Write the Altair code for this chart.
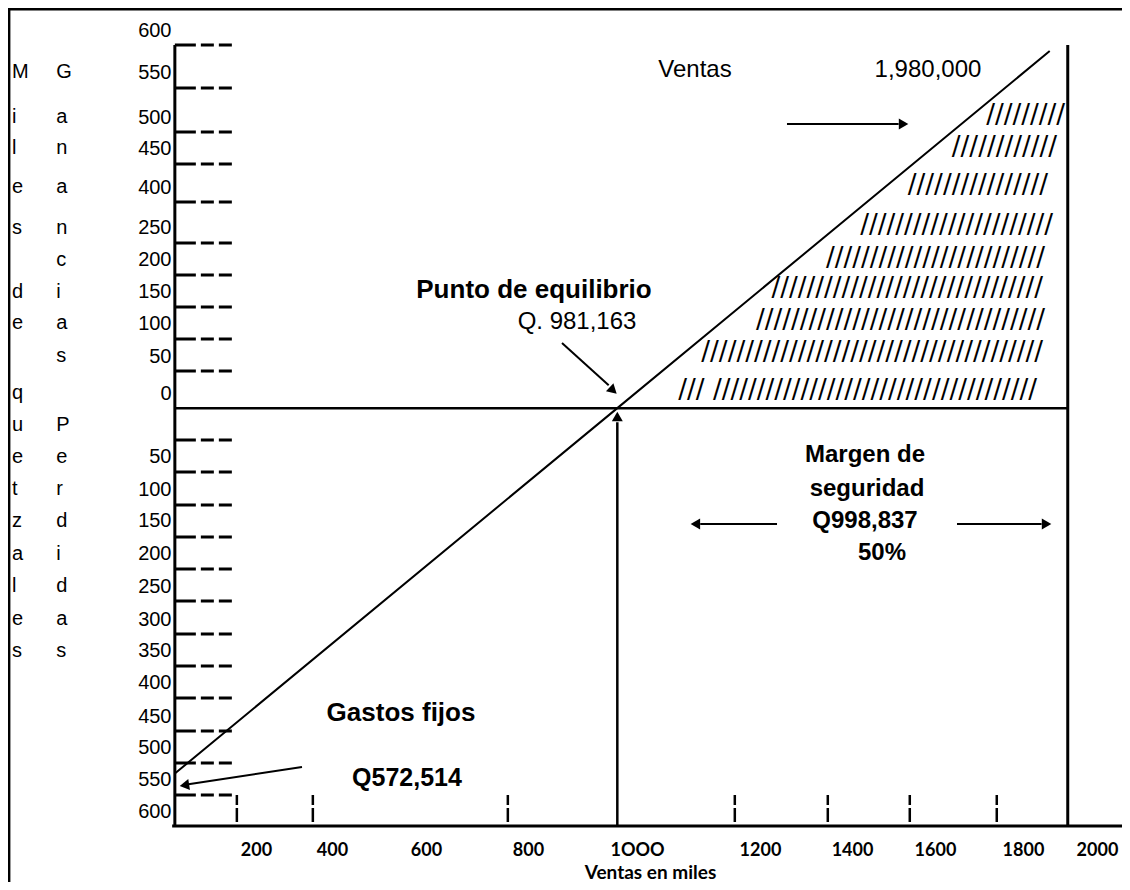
import json
import altair as alt
import pandas as pd

# ---------------- values (thousands of Q) ----------------
GASTOS_FIJOS = 572.514
PUNTO_EQUILIBRIO = 981.163
VENTAS = 1980.0

# profit line ("Ventas") : sales -> profit
sales_line_s = [0.0, 981.163, 1940.0]
sales_line_p = [-572.514, 0.0, 559.5]

# y tick labels (hand-placed in the original)
y_tick_text = ["600", "550", "500", "450", "400", "250", "200", "150", "100", "50", "0",
               "50", "100", "150", "200", "250", "300", "350", "400", "450", "500", "550", "600"]
y_tick_pos = [591.0, 526.7, 456.2, 407.6, 346.5, 282.3, 232.2, 182.0, 133.4, 81.7, 23.7,
              -76.5, -126.7, -176.8, -228.5, -278.7, -330.4, -380.5, -430.6, -482.4,
              -532.5, -582.6, -632.8]

# x tick labels
x_tick_text = ["200", "400", "600", "800", "1OOO", "1200", "1400", "1600", "1800", "2000"]
x_tick_pos = [179.9, 348.5, 556.9, 783.1, 1024.8, 1297.5, 1501.6, 1685.6, 1880.7, 2044.8]

# short dashed guide lines on the left
dash_levels = [569.0, 501.6, 432.7, 382.6, 323.0, 258.8, 208.6, 158.5, 108.4, 58.2,
               -49.9, -100.0, -151.7, -201.9, -252.0, -302.2, -353.9, -404.0, -454.1,
               -505.8, -556.0, -606.1]
dash_length = 141.9
# dashed ticks on the bottom
bottom_tick_s = [137.5, 306.0, 738.4, 1241.7, 1447.9, 1629.7, 1822.6]
bottom_tick_top = -606.1
bottom_tick_bottom = -648.4

# axis extent
AXIS_BOTTOM = -654.7
AXIS_TOP = 569.0

# hatched profit area, typed as rows of slashes
hatch_right_s = [1973.9, 1956.1, 1936.2, 1947.3, 1929.5, 1925.1, 1929.5, 1925.1, 1911.8]
hatch_p = [459.3, 409.2, 349.7, 287.0, 235.3, 188.3, 138.1, 88.0, 28.5]
hatch_text = ["/" * 9, "/" * 12, "/" * 16, "/" * 22, "/" * 25, "/" * 31, "/" * 33,
              "/" * 39, "/// " + "/" * 37]

# vertical axis title letters
letters_left = list("Miles") + [""] + list("de") + [""] + list("quetzales")
letters_right = list("Ganancias") + [""] + list("Perdidas")
letter_rows = [526.7, 456.2, 407.6, 346.5, 282.3, 232.2, 182.0, 133.4, 81.7, 23.7,
               -26.4, -76.5, -126.7, -176.8, -228.5, -278.7, -330.4, -380.5]
LETTER_COL1 = -361.1
LETTER_COL2 = -263.0

X_DOMAIN = [-370.0, 2100.3]
Y_DOMAIN = [-742.5, 627.0]

FONT = "Liberation Sans"
BLACK = "#000000"

# ---------------- scales / axes ----------------
xs = alt.Scale(domain=X_DOMAIN, nice=False, zero=False)
ys = alt.Scale(domain=Y_DOMAIN, nice=False, zero=False)

x_label_expr = "%s[indexof(%s, datum.value)]" % (json.dumps(x_tick_text), json.dumps(x_tick_pos))
y_label_expr = "%s[indexof(%s, datum.value)]" % (json.dumps(y_tick_text), json.dumps(y_tick_pos))

xaxis = alt.Axis(values=x_tick_pos, labelExpr=x_label_expr, orient="bottom", offset=-56,
                 domain=False, ticks=False, tickSize=0, grid=False,
                 labelFont="Lato", labelFontWeight="bold", labelFontSize=18, labelColor=BLACK,
                 labelPadding=15, labelOverlap=False, labelFlush=False,
                 title="Ventas en miles", titleFont="Lato", titleFontWeight="bold",
                 titleFontSize=19, titleColor=BLACK, titleX=642, titleY=46,
                 titleAlign="center", titleBaseline="middle", titleAngle=0)
yaxis = alt.Axis(values=y_tick_pos, labelExpr=y_label_expr, orient="left", offset=-167,
                 domain=False, ticks=False, tickSize=0, grid=False,
                 labelFont=FONT, labelFontSize=20, labelColor=BLACK, labelPadding=4,
                 labelOverlap=False, labelFlush=False, labelAlign="right",
                 labelBaseline="middle", title="")


def X(f):
    return alt.X(f, type="quantitative", scale=xs, axis=xaxis)


def Y(f):
    return alt.Y(f, type="quantitative", scale=ys, axis=yaxis)


layers = []

# outer frame (left and top)
frame_v = pd.DataFrame({"s": [X_DOMAIN[0] + 2.0], "p": [Y_DOMAIN[0]], "p2": [Y_DOMAIN[1]]})
layers.append(alt.Chart(frame_v).mark_rule(color=BLACK, strokeWidth=3).encode(
    x=X("s"), y=Y("p"), y2="p2"))
frame_h = pd.DataFrame({"s": [X_DOMAIN[0]], "s2": [X_DOMAIN[1]], "p": [Y_DOMAIN[1] - 1.6]})
layers.append(alt.Chart(frame_h).mark_rule(color=BLACK, strokeWidth=3).encode(
    x=X("s"), x2="s2", y=Y("p")))

# axes lines and right (sales) line
axes_df = pd.DataFrame({
    "s": [0.0, -6.0, VENTAS],
    "s2": [0.0, X_DOMAIN[1], VENTAS],
    "p": [AXIS_BOTTOM, AXIS_BOTTOM, AXIS_BOTTOM],
    "p2": [AXIS_TOP, AXIS_BOTTOM, AXIS_TOP],
})
layers.append(alt.Chart(axes_df).mark_rule(color=BLACK, strokeWidth=3).encode(
    x=X("s"), x2="s2", y=Y("p"), y2="p2"))

# zero (break-even) line and the vertical break-even arrow shaft
mid_df = pd.DataFrame({
    "s": [0.0, PUNTO_EQUILIBRIO],
    "s2": [VENTAS, PUNTO_EQUILIBRIO],
    "p": [0.0, AXIS_BOTTOM],
    "p2": [0.0, -22.0],
})
layers.append(alt.Chart(mid_df).mark_rule(color=BLACK, strokeWidth=2.5).encode(
    x=X("s"), x2="s2", y=Y("p"), y2="p2"))

# sales / profit line
line_df = pd.DataFrame({"s": sales_line_s, "p": sales_line_p})
layers.append(alt.Chart(line_df).mark_line(color=BLACK, strokeWidth=2).encode(
    x=X("s"), y=Y("p")))

# short dashed guide lines
dash_df = pd.DataFrame({"s": [0.0] * len(dash_levels), "s2": [dash_length] * len(dash_levels),
                        "p": dash_levels})
layers.append(alt.Chart(dash_df).mark_rule(color=BLACK, strokeWidth=3,
                                           strokeDash=[21, 5, 13, 5, 13, 10]).encode(
    x=X("s"), x2="s2", y=Y("p")))

# bottom dashed ticks
bt_df = pd.DataFrame({"s": bottom_tick_s, "p": [bottom_tick_top] * len(bottom_tick_s),
                      "p2": [bottom_tick_bottom] * len(bottom_tick_s)})
layers.append(alt.Chart(bt_df).mark_rule(color=BLACK, strokeWidth=2.5,
                                         strokeDash=[10, 3, 16, 3]).encode(
    x=X("s"), y=Y("p"), y2="p2"))

# annotation arrows: shafts
shaft_df = pd.DataFrame({
    "s": [1357.4, 1335.3, 1734.4, 858.5, 281.9],
    "p": [445.2, -181.5, -181.5, 102.1, -562.3],
    "s2": [1605.0, 1165.0, 1922.0, 962.0, 30.0],
    "p2": [445.2, -181.5, -181.5, 36.0, -589.5],
})
layers.append(alt.Chart(shaft_df).mark_rule(color=BLACK, strokeWidth=2).encode(
    x=X("s"), x2="s2", y=Y("p"), y2="p2"))

# arrow heads
head_df = pd.DataFrame({
    "s": [1612.4, 1157.8, 1929.5, 969.4, 24.7, PUNTO_EQUILIBRIO],
    "p": [445.2, -181.5, -181.5, 29.2, -590.5, -15.4],
    "ang": [90.0, 270.0, 90.0, 132.9, 261.1, 0.0],
})
layers.append(alt.Chart(head_df).mark_point(shape="triangle", filled=True, color=BLACK,
                                            opacity=1, size=120, strokeWidth=0).encode(
    x=X("s"), y=Y("p"), angle=alt.Angle("ang:Q", scale=None)))


def text_layer(df, size, weight="normal", align="center", font=FONT):
    return alt.Chart(df).mark_text(font=font, fontSize=size, fontWeight=weight, align=align,
                                   baseline="middle", color=BLACK).encode(
        x=X("s"), y=Y("p"), text="t:N")


reg24 = pd.DataFrame({"t": ["Ventas", "1,980,000", "Q. 981,163"],
                      "s": [1153.4, 1670.1, 891.8], "p": [529.9, 529.9, 135.0]})
layers.append(text_layer(reg24, 24))

bold26 = pd.DataFrame({"t": ["Punto de equilibrio", "Gastos fijos"],
                       "s": [796.4, 501.5], "p": [185.1, -477.7]})
layers.append(text_layer(bold26, 26, "bold"))

bold25 = pd.DataFrame({"t": ["Q572,514"], "s": [514.8], "p": [-579.5]})
layers.append(text_layer(bold25, 25, "bold"))

bold24 = pd.DataFrame({"t": ["Margen de", "seguridad", "Q998,837", "50%"],
                       "s": [1530.4, 1534.8, 1530.4, 1568.1],
                       "p": [-74.2, -126.7, -176.8, -227.7]})
layers.append(text_layer(bold24, 24, "bold"))

letters_df = pd.DataFrame({
    "t": letters_left + letters_right,
    "s": [LETTER_COL1] * len(letters_left) + [LETTER_COL2] * len(letters_right),
    "p": letter_rows + letter_rows,
})
layers.append(text_layer(letters_df, 20, align="left"))

hatch_df = pd.DataFrame({"t": hatch_text, "s": hatch_right_s, "p": hatch_p})
layers.append(text_layer(hatch_df, 26, align="right", font="DejaVu Sans"))

chart = alt.layer(*layers).properties(
    width=1114, height=874, autosize="none", padding=0
).configure_view(strokeWidth=0).configure(background="white")

chart.save("out.html", embed_options={"renderer": "svg", "actions": False})
